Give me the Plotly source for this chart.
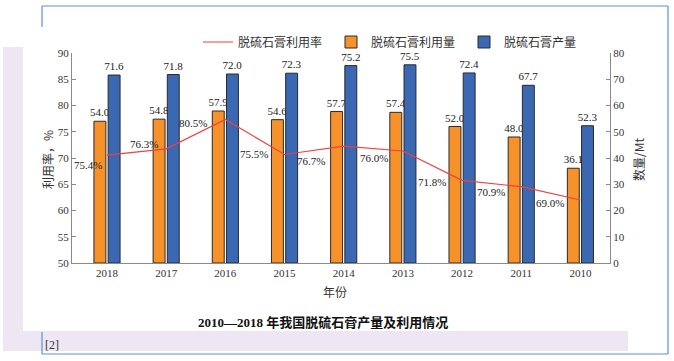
import plotly.graph_objects as go

years = ["2018", "2017", "2016", "2015", "2014", "2013", "2012", "2011", "2010"]
production = [71.6, 71.8, 72.0, 72.3, 75.2, 75.5, 72.4, 67.7, 52.3]
utilization = [54.0, 54.8, 57.9, 54.6, 57.7, 57.4, 52.0, 48.0, 36.1]
rate = [75.4, 76.3, 80.5, 75.5, 76.7, 76.0, 71.8, 70.9, 69.0]
# label offsets (pixels) of the percentage labels from their points
label_dx = [3, 6, 16, 15, 17, 13, 14, 14, 14]
label_dy = [10, -5, 3, -1, 15, 7, 2, 5, 3]

W, H = 674, 361
L, R, T, B = 72, 64, 53, 98
PW, PH = W - L - R, H - T - B


def px(x):
    return (x - L) / PW


def py(y):
    return (H - B - y) / PH


SERIF = "Liberation Serif, Noto Sans CJK SC, serif"
CJK = "Noto Sans CJK SC, sans-serif"

fig = go.Figure()
# anchor trace for the left (percentage) axis so that its subplot exists
fig.add_trace(go.Scatter(x=years, y=[None] * len(years), yaxis="y", mode="lines",
                         showlegend=False, hoverinfo="skip"))
fig.add_trace(go.Bar(
    x=years, y=utilization, name="脱硫石膏利用量", yaxis="y2",
    marker=dict(color="#F7922B", line=dict(color="#2a2a2a", width=1)),
    text=[f"{v:.1f}" for v in utilization], textposition="outside", constraintext="none",
    textfont=dict(family=SERIF, size=11, color="#222"), cliponaxis=False,
    legendrank=2,
))
fig.add_trace(go.Bar(
    x=years, y=production, name="脱硫石膏产量", yaxis="y2",
    marker=dict(color="#3A68B2", line=dict(color="#2a2a2a", width=1)),
    text=[f"{v:.1f}" for v in production], textposition="outside", constraintext="none",
    textfont=dict(family=SERIF, size=11, color="#222"), cliponaxis=False,
    legendrank=3,
))
fig.add_trace(go.Scatter(
    x=years, y=rate, name="脱硫石膏利用率", yaxis="y3", mode="lines",
    line=dict(color="#F04040", width=1.2), cliponaxis=False,
    legendrank=1,
))

shapes = []
lav = "#EEE7F3"
shapes.append(dict(type="rect", xref="paper", yref="paper", x0=px(3), x1=px(23), y0=py(351), y1=py(47),
                   fillcolor=lav, line=dict(width=0), layer="below"))
shapes.append(dict(type="rect", xref="paper", yref="paper", x0=px(3), x1=px(628), y0=py(351), y1=py(331),
                   fillcolor=lav, line=dict(width=0), layer="below"))
blue = "#5B8FE3"
for (x0, y0, x1, y1) in [(42, 6, 668, 6), (668, 6, 668, 354), (42, 354, 668, 354),
                         (42, 6, 42, 27), (42, 332, 42, 354)]:
    shapes.append(dict(type="line", xref="paper", yref="paper", x0=px(x0), x1=px(x1), y0=py(y0), y1=py(y1),
                       line=dict(color=blue, width=1.2), layer="below"))


def ann(text, x, y, size=12, family=CJK, angle=0, color="#333"):
    return dict(text=text, x=px(x), y=py(y), xref="paper", yref="paper", showarrow=False,
                xanchor="center", yanchor="middle", textangle=angle,
                font=dict(family=family, size=size, color=color))


annotations = [
    ann("<b>2010—2018 年我国脱硫石膏产量及利用情况</b>", 323, 322, size=13, family=SERIF, color="#111"),
    ann("年份", 335, 291),
    ann("利用率，%", 47, 160, angle=-90),
    ann("数量/Mt", 638, 160, angle=-90),
    ann("[2]", 52, 345, family=SERIF),
]
# percentage labels, placed by category index on the category axis
for i, (v, dx, dy) in enumerate(zip(rate, label_dx, label_dy)):
    annotations.append(dict(text=f"{v:.1f}%", x=i, y=v, xref="x", yref="y3", showarrow=False,
                            xanchor="right", yanchor="middle", xshift=-dx, yshift=-dy,
                            font=dict(family=SERIF, size=11, color="#222")))

axis_common = dict(showgrid=False, zeroline=False, showline=True, linecolor="#8a8a8a", linewidth=1,
                   ticks="inside", ticklen=4, tickcolor="#8a8a8a",
                   tickfont=dict(family=SERIF, size=11, color="#333"))

fig.update_layout(
    width=W, height=H, margin=dict(l=L, r=R, t=T, b=B, autoexpand=False),
    paper_bgcolor="white", plot_bgcolor="rgba(0,0,0,0)",
    barmode="group", bargap=0.52, bargroupgap=0.16,
    shapes=shapes, annotations=annotations,
    xaxis=dict(type="category", categoryorder="array", categoryarray=years,
               showgrid=False, showline=True, linecolor="#8a8a8a", ticks="",
               tickfont=dict(family=SERIF, size=11, color="#333")),
    yaxis=dict(range=[50, 90], dtick=5, side="left", **axis_common),
    yaxis2=dict(range=[0, 80], dtick=10, side="right", overlaying="y", **axis_common),
    yaxis3=dict(range=[60, 90], overlaying="y", visible=False),
    legend=dict(orientation="h", x=px(198), y=py(42), xanchor="left", yanchor="middle",
                entrywidth=88, entrywidthmode="pixels", itemwidth=30,
                font=dict(family=CJK, size=12, color="#333"), bgcolor="rgba(0,0,0,0)"),
    showlegend=True,
)

fig.write_html("out.html", config={"displayModeBar": False},
               post_script="document.body.style.margin='0px';")
